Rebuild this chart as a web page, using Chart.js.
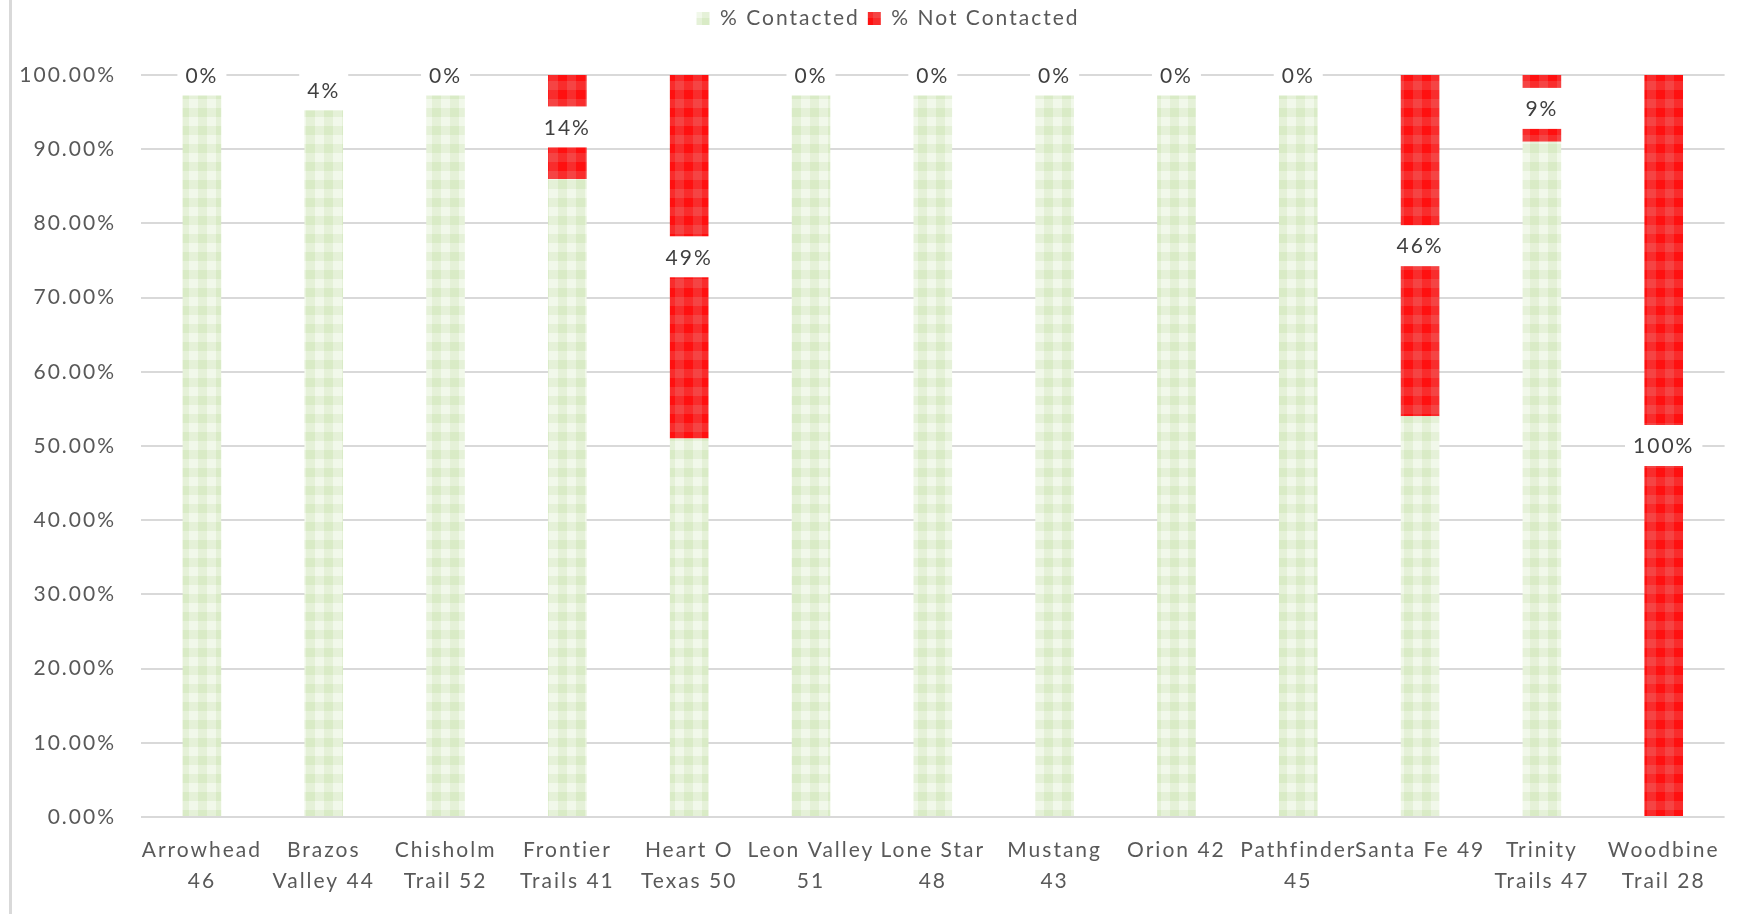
<!DOCTYPE html>
<html>
<head>
<meta charset="utf-8">
<title>Contacted vs Not Contacted</title>
<script src="https://cdn.jsdelivr.net/npm/chart.js@4.4.1/dist/chart.umd.min.js"></script>
<style>
    html, body { margin: 0; padding: 0; background: #ffffff; }
    #wrap { position: relative; width: 1737px; height: 914px; }
    #edge { position: absolute; left: 9px; top: 0; width: 3px; height: 914px; background: #d9d9d9; }
</style>
</head>
<body>
<div id="wrap">
    <div id="edge"></div>
    <canvas id="contactChart"></canvas>
</div>
<script>
// district labels (wrapped like the original axis)
const categories = [
    ['Arrowhead', '46'],
    ['Brazos', 'Valley 44'],
    ['Chisholm', 'Trail 52'],
    ['Frontier', 'Trails 41'],
    ['Heart O', 'Texas 50'],
    ['Leon Valley', '51'],
    ['Lone Star', '48'],
    ['Mustang', '43'],
    'Orion 42',
    ['Pathfinder', '45'],
    'Santa Fe 49',
    ['Trinity', 'Trails 47'],
    ['Woodbine', 'Trail 28']
];
const contacted =    [100, 96, 100, 86, 51, 100, 100, 100, 100, 100, 54, 91, 0];
const notContacted = [0,   4,  0,   14, 49, 0,   0,   0,   0,   0,   46, 9,  100];
const yTicks = [0, 10, 20, 30, 40, 50, 60, 70, 80, 90, 100];

const FONT = 'Lato';
const SPACING = '2px'; // the original text is set quite loose

// small plaid fill like the excel pattern
function plaid(dark, mid, light) {
    const c = document.createElement('canvas');
    c.width = 18;
    c.height = 18;
    const g = c.getContext('2d');
    g.fillStyle = dark;  g.fillRect(0, 0, 9, 9);
    g.fillStyle = mid;   g.fillRect(9, 0, 9, 9);
    g.fillStyle = mid;   g.fillRect(0, 9, 9, 9);
    g.fillStyle = light; g.fillRect(9, 9, 9, 9);
    return g.createPattern(c, 'repeat');
}

const greenFill = plaid('#d9ebc6', '#e5f1d8', '#f1f8ea');
const redFill = plaid('#ff1010', '#f92c2c', '#f54444');

// letter spacing has to be set again after every canvas resize
const looseText = {
    id: 'looseText',
    beforeUpdate(chart) { chart.ctx.letterSpacing = SPACING; },
    beforeLayout(chart) { chart.ctx.letterSpacing = SPACING; },
    beforeDraw(chart) { chart.ctx.letterSpacing = SPACING; }
};

// legend sits in a fixed band above the plot, centred a bit right
const legendBand = {
    id: 'legendBand',
    beforeLayout(chart) {
        const lg = chart.legend;
        if (lg && !lg._bandPatched) {
            const fit = lg.fit;
            lg.fit = function () {
                fit.call(this);
                this.height = 75;
            };
            lg._bandPatched = true;
        }
    },
    afterLayout(chart) {
        if (chart.legend) {
            chart.legend.left = 50;
        }
    }
};

// white boxed % labels in the middle of the red segments
const notContactedLabels = {
    id: 'notContactedLabels',
    afterDatasetsDraw(chart) {
        const ctx = chart.ctx;
        const meta = chart.getDatasetMeta(1);
        ctx.save();
        ctx.letterSpacing = SPACING;
        ctx.font = '21px ' + FONT;
        ctx.textAlign = 'center';
        ctx.textBaseline = 'middle';
        meta.data.forEach((bar, i) => {
            const text = notContacted[i] + '%';
            const cy = (bar.y + bar.base) / 2;
            const w = ctx.measureText(text).width + 16;
            ctx.fillStyle = '#ffffff';
            ctx.fillRect(bar.x - w / 2, cy - 20.5, w, 41);
            ctx.fillStyle = '#404040';
            ctx.fillText(text, bar.x, cy + 1);
        });
        ctx.restore();
    }
};

const ctx = document.getElementById('contactChart').getContext('2d');
new Chart(ctx, {
    type: 'bar',
    data: {
        labels: categories,
        datasets: [
            {
                label: '% Contacted',
                data: contacted,
                backgroundColor: greenFill,
                borderWidth: 0
            },
            {
                label: '% Not Contacted',
                data: notContacted,
                backgroundColor: redFill,
                borderWidth: 0
            }
        ]
    },
    options: {
        responsive: true,
        maintainAspectRatio: false,
        animation: false,
        datasets: {
            bar: { categoryPercentage: 1, barPercentage: 0.317 }
        },
        layout: {
            padding: { left: 0, right: 11, top: 0, bottom: 16 }
        },
        plugins: {
            legend: {
                position: 'top',
                labels: {
                    boxWidth: 13,
                    boxHeight: 13,
                    padding: 8,
                    color: '#595959',
                    font: { family: FONT, size: 21 }
                }
            },
            tooltip: { enabled: false }
        },
        scales: {
            x: {
                stacked: true,
                afterFit: (scale) => { scale.height = 81; },
                grid: { display: false, drawTicks: false },
                border: { display: false },
                ticks: {
                    autoSkip: false,
                    maxRotation: 0,
                    minRotation: 0,
                    padding: 17,
                    color: '#595959',
                    font: { family: FONT, size: 21, lineHeight: 1.5 }
                }
            },
            y: {
                stacked: true,
                min: 0,
                max: 100,
                afterFit: (scale) => { scale.width = 141; },
                afterBuildTicks: (scale) => { scale.ticks = yTicks.map(v => ({ value: v })); },
                grid: { color: '#d9d9d9', lineWidth: 2, drawTicks: false },
                border: { display: false },
                ticks: {
                    padding: 25,
                    color: '#595959',
                    font: { family: FONT, size: 21 },
                    callback: (v) => v.toFixed(2) + '%'
                }
            }
        }
    },
    plugins: [looseText, legendBand, notContactedLabels]
});
</script>
</body>
</html>
